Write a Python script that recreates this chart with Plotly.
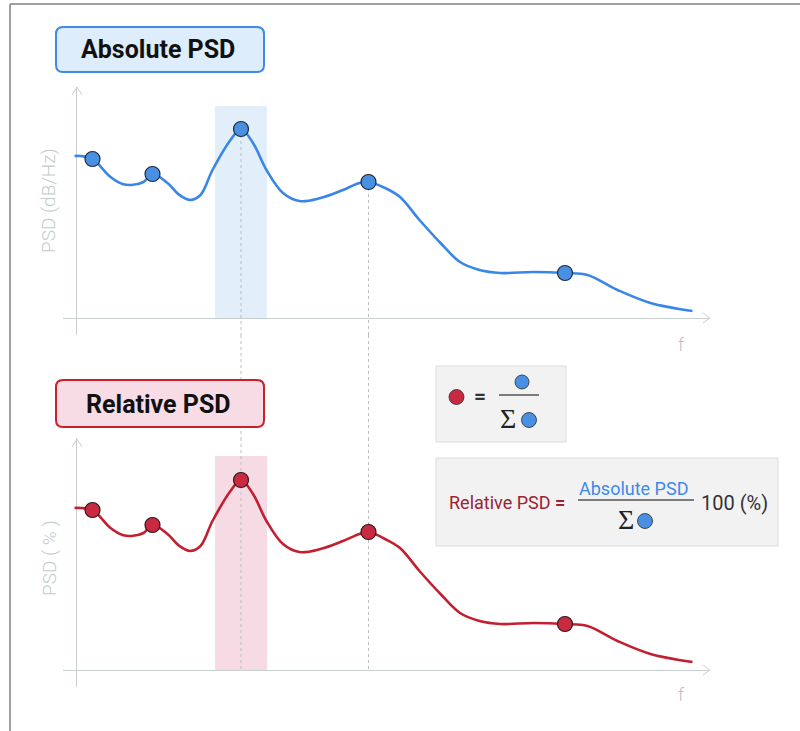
import plotly.graph_objects as go

W, H = 800, 731

# ---------------- data ----------------
freq = [-0.1, 0.3, 1.1, 2.3, 3.1, 3.7, 4.5, 5.1, 6.1, 6.9, 7.6, 8.3, 9.1, 10.3, 11.0, 11.8,
        12.7, 13.8, 14.9, 16.3, 17.8, 18.9, 19.5, 20.6, 21.6, 22.9, 24.3, 25.6, 26.9, 28.3,
        30.5, 32.6, 34.1, 36.1, 38.3, 41.1]
abs_psd = [16.2, 16.2, 15.9, 14.1, 13.4, 13.3, 13.6, 14.4, 13.5, 12.3, 11.8, 12.3, 14.8, 17.8,
           18.9, 17.5, 14.8, 12.5, 11.7, 12.0, 12.8, 13.5, 13.6, 13.0, 12.1, 9.8, 7.5, 5.6,
           4.8, 4.5, 4.6, 4.5, 4.3, 2.8, 1.5, 0.7]
rel_psd = [16.2, 16.2, 16.0, 14.2, 13.5, 13.4, 13.7, 14.5, 13.6, 12.4, 11.9, 12.4, 14.9, 17.9,
           19.0, 17.6, 14.9, 12.6, 11.8, 12.1, 12.9, 13.6, 13.8, 13.1, 12.2, 9.9, 7.6, 5.7,
           4.9, 4.6, 4.7, 4.6, 4.4, 2.9, 1.6, 0.8]

peak_freq = [1.1, 5.1, 11.0, 19.5, 32.6]
peak_abs = [15.9, 14.4, 18.9, 13.6, 4.5]
peak_rel = [16.0, 14.5, 19.0, 13.8, 4.6]

band = [9.27, 12.73]          # highlighted frequency band
band_top_abs = 21.2
band_top_rel = 21.4
guide_freq = [11.0, 19.5]     # dashed guides
guide_abs = [18.9, 13.6]
guide_rel = [19.0, 13.8]

# ---------------- axes geometry ----------------
X_RANGE = [-0.867, 42.267]
X_DOM = [63 / W, 710 / W]
TOP_DOM = [(H - 335) / H, (H - 87) / H]
TOP_RANGE = [-1.7, 23.1]
BOT_DOM = [(H - 687) / H, (H - 438) / H]
BOT_RANGE = [-1.7, 23.2]


def px(x):
    return x / W


def py(y):
    return 1 - y / H


def y_to_paper(v, dom, rng):
    return dom[0] + (v - rng[0]) / (rng[1] - rng[0]) * (dom[1] - dom[0])


BLUE_LINE = "#3a86e6"
BLUE_DOT = "#4a90e2"
RED_LINE = "#c21f30"
RED_DOT = "#c92a42"
AXIS_GREY = "#c9cfcf"
DASH = dict(color="#bdbdbd", width=1, dash="3px,3px")

fig = go.Figure()

fig.add_trace(go.Scatter(x=freq, y=abs_psd, mode="lines",
                         line=dict(color=BLUE_LINE, width=2.6, shape="spline", smoothing=1.0),
                         xaxis="x", yaxis="y", hoverinfo="skip"))
fig.add_trace(go.Scatter(x=peak_freq, y=peak_abs, mode="markers",
                         marker=dict(color=BLUE_DOT, size=15, line=dict(color="#1f2a36", width=1.2)),
                         xaxis="x", yaxis="y", hoverinfo="skip"))
fig.add_trace(go.Scatter(x=freq, y=rel_psd, mode="lines",
                         line=dict(color=RED_LINE, width=2.6, shape="spline", smoothing=1.0),
                         xaxis="x2", yaxis="y2", hoverinfo="skip"))
fig.add_trace(go.Scatter(x=peak_freq, y=peak_rel, mode="markers",
                         marker=dict(color=RED_DOT, size=15, line=dict(color="#2a1a1c", width=1.2)),
                         xaxis="x2", yaxis="y2", hoverinfo="skip"))

ax_common = dict(range=X_RANGE, domain=X_DOM, showgrid=False, showticklabels=False,
                 ticks="", zeroline=True, zerolinecolor=AXIS_GREY, zerolinewidth=1,
                 showline=False, fixedrange=True)
ay_common = dict(showgrid=False, showticklabels=False, ticks="", zeroline=True,
                 zerolinecolor=AXIS_GREY, zerolinewidth=1, showline=False, fixedrange=True)

shapes = []

# highlighted bands
shapes.append(dict(type="rect", xref="x", yref="y", x0=band[0], x1=band[1], y0=0, y1=band_top_abs,
                   fillcolor="#e2effa", line=dict(width=0), layer="below"))
shapes.append(dict(type="rect", xref="x2", yref="y2", x0=band[0], x1=band[1], y0=0, y1=band_top_rel,
                   fillcolor="#f6dbe5", line=dict(width=0), layer="below"))

# dashed guides from the top peaks down to the lower axis (three segments)
top_bottom_paper = TOP_DOM[0]
bot_top_paper = BOT_DOM[1]
for gf, ga in zip(guide_freq, guide_abs):
    shapes.append(dict(type="line", xref="x", yref="y", x0=gf, x1=gf, y0=ga, y1=TOP_RANGE[0],
                       line=DASH, layer="below"))
    shapes.append(dict(type="line", xref="x", yref="paper", x0=gf, x1=gf,
                       y0=top_bottom_paper, y1=bot_top_paper, line=DASH, layer="below"))
    shapes.append(dict(type="line", xref="x2", yref="y2", x0=gf, x1=gf, y0=BOT_RANGE[1], y1=0,
                       line=DASH, layer="below"))


# axis arrowheads
def chevron(points):
    d = "M " + " L ".join(f"{px(a)},{py(b)}" for a, b in points)
    return dict(type="path", xref="paper", yref="paper", path=d,
                line=dict(color=AXIS_GREY, width=1))


for dy in (0, 352):
    shapes.append(chevron([(72, 95 + dy), (77, 87 + dy), (82, 95 + dy)]))
    shapes.append(chevron([(703, 313 + dy), (710, 318 + dy), (703, 323 + dy)]))


def rrect(x0, y0, x1, y1, r, fill, color, width):
    p = (f"M {px(x0 + r)},{py(y0)} L {px(x1 - r)},{py(y0)} "
         f"Q {px(x1)},{py(y0)} {px(x1)},{py(y0 + r)} L {px(x1)},{py(y1 - r)} "
         f"Q {px(x1)},{py(y1)} {px(x1 - r)},{py(y1)} L {px(x0 + r)},{py(y1)} "
         f"Q {px(x0)},{py(y1)} {px(x0)},{py(y1 - r)} L {px(x0)},{py(y0 + r)} "
         f"Q {px(x0)},{py(y0)} {px(x0 + r)},{py(y0)} Z")
    return dict(type="path", xref="paper", yref="paper", path=p, fillcolor=fill,
                line=dict(color=color, width=width))


def dot(cx, cy, r, fill):
    return dict(type="circle", xref="paper", yref="paper", x0=px(cx - r), x1=px(cx + r),
                y0=py(cy + r), y1=py(cy - r), fillcolor=fill, line=dict(color="#2b2b2b", width=0.8))


def hline(x0, x1, y, color="#555555", width=1.3):
    return dict(type="line", xref="paper", yref="paper", x0=px(x0), x1=px(x1), y0=py(y), y1=py(y),
                line=dict(color=color, width=width))


# frame
shapes.append(dict(type="line", xref="paper", yref="paper", x0=px(10), x1=1, y0=py(4), y1=py(4),
                   line=dict(color="#808080", width=1.5)))
shapes.append(dict(type="line", xref="paper", yref="paper", x0=px(10), x1=px(10), y0=py(4), y1=0,
                   line=dict(color="#808080", width=1.5)))

# title boxes
shapes.append(rrect(56, 27, 264, 72, 7, "#deedfb", "#3d8ae8", 2))
shapes.append(rrect(56, 380, 264, 427, 7, "#f7dce6", "#c8202c", 2))

# formula boxes
shapes.append(dict(type="rect", xref="paper", yref="paper", x0=px(436), x1=px(566), y0=py(442), y1=py(366),
                   fillcolor="#f2f2f2", line=dict(color="#dcdcdc", width=1)))
shapes.append(dict(type="rect", xref="paper", yref="paper", x0=px(436), x1=px(778), y0=py(546), y1=py(458),
                   fillcolor="#f2f2f2", line=dict(color="#dcdcdc", width=1)))

# formula 1 glyphs
shapes.append(dot(456.5, 397, 7.5, RED_DOT))
shapes.append(dot(522, 382, 7, BLUE_DOT))
shapes.append(hline(499, 539, 395))
shapes.append(dot(529, 420, 7.5, BLUE_DOT))
# formula 2 glyphs
shapes.append(hline(578, 694, 500))
shapes.append(dot(645, 521, 7.5, BLUE_DOT))

annotations = []


def txt(x, y, s, size, color, family="Roboto", angle=0, xanchor="center", weight=None):
    font = dict(family=family, size=size, color=color)
    if weight is not None:
        font["weight"] = weight
    annotations.append(dict(x=px(x), y=py(y), xref="paper", yref="paper", text=s, showarrow=False,
                            font=font, textangle=angle, xanchor=xanchor, yanchor="middle"))


txt(158, 50, "<b>Absolute PSD</b>", 25, "#111111")
txt(158, 404, "<b>Relative PSD</b>", 25, "#111111")
txt(49, 201, "PSD (dB/Hz)", 19, "#c3cbcb", angle=-90, weight=300)
txt(49, 558, "PSD ( % )", 19, "#c3cbcb", angle=-90, weight=300)
txt(681, 344, "f", 18, "#b8c0c0", weight=300)
txt(681, 694, "f", 18, "#b8c0c0", weight=300)

# formula 1 text
txt(480, 396, "<b>=</b>", 21, "#333333")
txt(508, 418, "Σ", 28, "#222222", family="Liberation Serif")
# formula 2 text
txt(447, 503, "Relative PSD <b>=</b>", 18, "#9b2335", xanchor="left")
txt(633, 488, "Absolute PSD", 18, "#3d8ae8")
txt(626, 519, "Σ", 28, "#222222", family="Liberation Serif")
txt(734, 503, "100 (%)", 20, "#333333")

fig.update_layout(
    width=W, height=H, margin=dict(l=0, r=0, t=0, b=0),
    paper_bgcolor="white", plot_bgcolor="rgba(0,0,0,0)",
    showlegend=False, hovermode=False,
    xaxis=dict(**ax_common, anchor="y"),
    yaxis=dict(**ay_common, range=TOP_RANGE, domain=TOP_DOM, anchor="x"),
    xaxis2=dict(**ax_common, anchor="y2"),
    yaxis2=dict(**ay_common, range=BOT_RANGE, domain=BOT_DOM, anchor="x2"),
    shapes=shapes, annotations=annotations,
)

fig.write_html("out.html", config={"displayModeBar": False},
               post_script="document.body.style.margin='0px';")
